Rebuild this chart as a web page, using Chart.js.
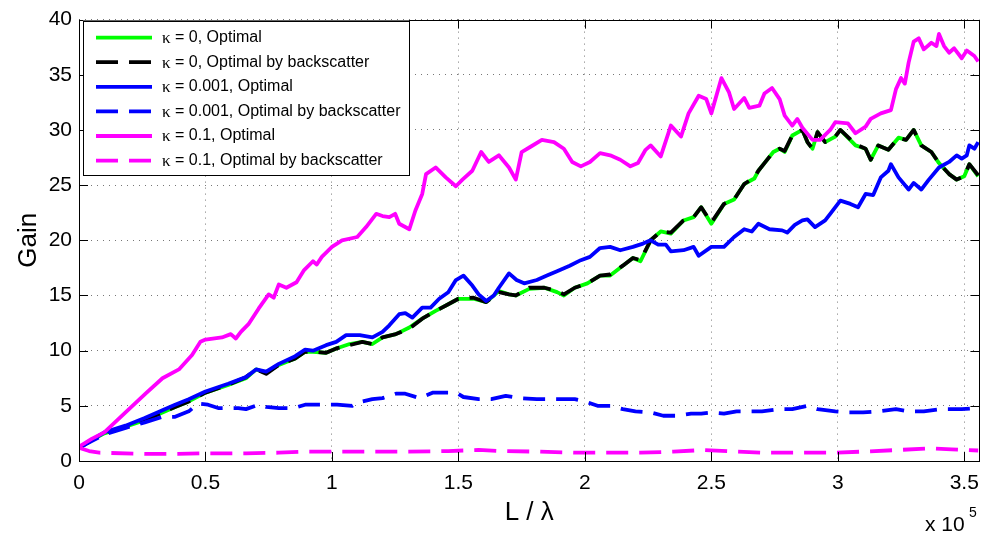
<!DOCTYPE html>
<html>
<head>
<meta charset="utf-8">
<script src="https://cdn.jsdelivr.net/npm/chart.js@4"></script>
<style>
  html, body { margin: 0; padding: 0; background: #fff; }
  #wrap { width: 989px; height: 542px; }
</style>
</head>
<body>
<div id="wrap"><canvas id="gainChart" width="989" height="542"></canvas></div>
<script>
// x values are in units of 1e5 (L / lambda)
const xTicks = [0, 0.5, 1, 1.5, 2, 2.5, 3, 3.5];
const yTicks = [0, 5, 10, 15, 20, 25, 30, 35, 40];

const labels = [
    'κ = 0, Optimal',
    'κ = 0, Optimal by backscatter',
    'κ = 0.001, Optimal',
    'κ = 0.001, Optimal by backscatter',
    'κ = 0.1, Optimal',
    'κ = 0.1, Optimal by backscatter'
];

// kappa = 0, optimal (green) and by backscatter (black dashed)
const k0X = [0, 0.05, 0.1, 0.184, 0.26, 0.33, 0.38, 0.434, 0.5, 0.59, 0.66, 0.70, 0.74, 0.79, 0.855, 0.894, 0.925, 0.977, 1.017, 1.07, 1.12, 1.16, 1.2, 1.253, 1.306, 1.357, 1.41, 1.46, 1.50, 1.56, 1.61, 1.66, 1.70, 1.727, 1.78, 1.84, 1.89, 1.917, 1.96, 2.01, 2.06, 2.1, 2.15, 2.19, 2.22, 2.26, 2.30, 2.34, 2.39, 2.43, 2.46, 2.50, 2.55, 2.59, 2.63, 2.67, 2.686, 2.71, 2.745, 2.77, 2.79, 2.82, 2.86, 2.88, 2.90, 2.92, 2.95, 2.99, 3.01, 3.07, 3.11, 3.13, 3.16, 3.2, 3.24, 3.27, 3.30, 3.33, 3.37, 3.40, 3.44, 3.47, 3.50, 3.52, 3.555];
const k0OptY = [1.2, 1.9, 2.5, 3.1, 3.7, 4.4, 4.9, 5.4, 6.2, 6.9, 7.5, 8.3, 8.0, 8.7, 9.3, 9.9, 9.9, 9.8, 10.2, 10.6, 10.8, 10.6, 11.2, 11.5, 12.1, 12.9, 13.6, 14.2, 14.7, 14.7, 14.4, 15.4, 15.1, 15.0, 15.6, 15.7, 15.3, 15.0, 15.7, 16.1, 16.8, 16.8, 17.7, 18.4, 18.1, 20.0, 20.8, 20.6, 21.8, 22.1, 23.0, 21.5, 23.3, 23.7, 25.1, 25.6, 26.3, 27.0, 28.0, 28.3, 28.0, 29.5, 30.0, 28.9, 28.3, 29.8, 28.9, 29.4, 30.0, 28.6, 28.3, 27.3, 28.6, 28.2, 29.3, 29.1, 30.0, 28.6, 28.0, 27.0, 26.0, 25.5, 25.8, 26.9, 25.8];
const k0BackY = [1.2, 1.9, 2.5, 3.1, 3.7, 4.4, 4.9, 5.4, 6.2, 6.9, 7.6, 8.3, 7.9, 8.7, 9.3, 9.9, 9.9, 9.8, 10.2, 10.5, 10.8, 10.6, 11.2, 11.5, 12.0, 12.9, 13.6, 14.2, 14.7, 14.8, 14.4, 15.3, 15.1, 15.0, 15.7, 15.7, 15.4, 15.1, 15.7, 16.1, 16.8, 16.9, 17.7, 18.4, 18.2, 20.0, 20.8, 20.7, 21.8, 22.1, 23.0, 21.6, 23.3, 23.7, 25.1, 25.7, 26.3, 27.0, 28.0, 28.3, 28.1, 29.5, 30.0, 28.9, 28.3, 29.8, 28.9, 29.4, 30.0, 28.7, 28.3, 27.3, 28.6, 28.2, 29.3, 29.1, 30.0, 28.6, 28.0, 27.0, 26.0, 25.5, 25.8, 26.9, 25.9];

// kappa = 0.001, optimal (blue)
const k1OptX = [0, 0.05, 0.1, 0.184, 0.26, 0.33, 0.38, 0.434, 0.5, 0.59, 0.66, 0.70, 0.74, 0.79, 0.855, 0.894, 0.925, 0.977, 1.017, 1.056, 1.11, 1.16, 1.2, 1.227, 1.266, 1.29, 1.318, 1.357, 1.39, 1.424, 1.46, 1.49, 1.52, 1.555, 1.58, 1.61, 1.64, 1.66, 1.70, 1.73, 1.76, 1.81, 1.85, 1.89, 1.94, 1.984, 2.02, 2.06, 2.1, 2.14, 2.19, 2.23, 2.26, 2.29, 2.32, 2.34, 2.39, 2.43, 2.45, 2.50, 2.55, 2.59, 2.63, 2.66, 2.686, 2.73, 2.78, 2.8, 2.83, 2.86, 2.88, 2.91, 2.95, 2.97, 3.01, 3.05, 3.08, 3.11, 3.14, 3.17, 3.20, 3.21, 3.24, 3.28, 3.30, 3.33, 3.36, 3.40, 3.44, 3.47, 3.49, 3.51, 3.52, 3.54, 3.555];
const k1OptY = [1.2, 1.9, 2.6, 3.2, 3.9, 4.6, 5.1, 5.6, 6.3, 7.0, 7.6, 8.3, 8.1, 8.8, 9.5, 10.1, 10.0, 10.5, 10.8, 11.4, 11.4, 11.2, 11.7, 12.3, 13.3, 13.4, 13.0, 13.9, 13.9, 14.7, 15.3, 16.4, 16.8, 15.9, 15.1, 14.5, 15.0, 15.7, 17.0, 16.4, 16.1, 16.4, 16.8, 17.2, 17.7, 18.2, 18.5, 19.3, 19.4, 19.1, 19.4, 19.7, 20.0, 19.6, 19.6, 19.0, 19.1, 19.4, 18.6, 19.4, 19.4, 20.3, 21.0, 20.8, 21.5, 21.0, 20.9, 20.7, 21.4, 21.8, 21.9, 21.2, 21.8, 22.4, 23.6, 23.3, 23.0, 24.2, 24.1, 25.7, 26.3, 26.9, 25.7, 24.6, 25.2, 24.6, 25.5, 26.6, 27.1, 27.7, 27.4, 27.7, 28.6, 28.3, 28.9];

// kappa = 0.001, by backscatter (blue dashed)
const k1BackX = [0, 0.05, 0.1, 0.184, 0.26, 0.33, 0.38, 0.434, 0.47, 0.51, 0.55, 0.63, 0.66, 0.71, 0.74, 0.79, 0.85, 0.894, 0.95, 1.02, 1.08, 1.10, 1.16, 1.2, 1.253, 1.29, 1.345, 1.40, 1.45, 1.49, 1.52, 1.58, 1.63, 1.687, 1.74, 1.81, 1.89, 1.96, 2.0, 2.05, 2.1, 2.15, 2.2, 2.26, 2.31, 2.36, 2.42, 2.46, 2.50, 2.55, 2.6, 2.7, 2.77, 2.82, 2.88, 2.92, 2.99, 3.04, 3.1, 3.16, 3.23, 3.28, 3.34, 3.41, 3.49, 3.555];
const k1BackY = [1.2, 1.8, 2.4, 3.0, 3.5, 4.0, 4.0, 4.5, 5.2, 5.1, 4.8, 4.8, 4.7, 5.1, 4.9, 4.8, 4.8, 5.1, 5.1, 5.1, 5.0, 5.3, 5.6, 5.7, 6.1, 6.1, 5.7, 6.2, 6.2, 6.2, 5.8, 5.6, 5.6, 5.9, 5.7, 5.6, 5.6, 5.6, 5.4, 5.0, 5.0, 4.7, 4.5, 4.4, 4.1, 4.1, 4.3, 4.3, 4.4, 4.3, 4.5, 4.5, 4.7, 4.7, 5.0, 4.7, 4.5, 4.4, 4.4, 4.5, 4.7, 4.5, 4.5, 4.7, 4.7, 4.8];

// kappa = 0.1, optimal (magenta)
const k2OptX = [0, 0.05, 0.1, 0.184, 0.263, 0.33, 0.395, 0.447, 0.48, 0.5, 0.565, 0.6, 0.62, 0.64, 0.67, 0.71, 0.75, 0.77, 0.79, 0.82, 0.86, 0.89, 0.925, 0.94, 0.96, 1.0, 1.04, 1.1, 1.135, 1.175, 1.2, 1.227, 1.25, 1.266, 1.306, 1.33, 1.357, 1.372, 1.41, 1.45, 1.49, 1.516, 1.555, 1.59, 1.62, 1.66, 1.70, 1.727, 1.75, 1.787, 1.83, 1.878, 1.917, 1.95, 1.984, 2.02, 2.06, 2.1, 2.14, 2.18, 2.21, 2.24, 2.26, 2.30, 2.34, 2.38, 2.41, 2.45, 2.48, 2.50, 2.54, 2.57, 2.59, 2.63, 2.65, 2.69, 2.71, 2.74, 2.77, 2.79, 2.82, 2.84, 2.86, 2.90, 2.93, 2.97, 2.99, 3.04, 3.07, 3.11, 3.13, 3.17, 3.21, 3.23, 3.25, 3.265, 3.28, 3.30, 3.32, 3.34, 3.37, 3.39, 3.40, 3.42, 3.44, 3.46, 3.49, 3.51, 3.54, 3.555];
const k2OptY = [1.3, 2.0, 2.6, 4.4, 6.1, 7.5, 8.3, 9.6, 10.8, 11.0, 11.2, 11.5, 11.1, 11.7, 12.4, 13.8, 15.1, 14.8, 16.0, 15.7, 16.2, 17.3, 18.1, 17.8, 18.5, 19.4, 20.0, 20.3, 21.2, 22.4, 22.2, 22.1, 22.4, 21.5, 21.0, 22.7, 24.2, 26.0, 26.6, 25.7, 24.9, 25.5, 26.3, 28.0, 27.1, 27.7, 26.6, 25.5, 28.0, 28.5, 29.1, 28.9, 28.3, 27.1, 26.7, 27.1, 27.9, 27.7, 27.3, 26.7, 27.0, 28.2, 28.6, 27.6, 30.4, 29.4, 31.5, 33.1, 32.8, 31.5, 34.7, 33.4, 31.9, 32.9, 32.0, 32.2, 33.3, 33.8, 32.8, 31.3, 30.4, 31.0, 30.2, 29.1, 29.1, 30.0, 30.7, 30.6, 29.7, 30.3, 31.0, 31.5, 31.8, 33.7, 34.7, 34.2, 36.1, 38.0, 38.3, 37.3, 37.9, 37.6, 38.7, 37.6, 37.0, 37.4, 36.5, 37.2, 36.7, 36.2];

// kappa = 0.1, by backscatter (magenta dashed)
const k2BackX = [0, 0.04, 0.08, 0.26, 0.39, 0.5, 0.66, 0.79, 0.89, 1.07, 1.27, 1.46, 1.58, 1.66, 1.82, 1.96, 2.08, 2.22, 2.35, 2.47, 2.6, 2.7, 2.84, 2.98, 3.1, 3.24, 3.37, 3.45, 3.555];
const k2BackY = [1.2, 0.9, 0.75, 0.65, 0.65, 0.7, 0.7, 0.75, 0.85, 0.85, 0.85, 0.9, 1.0, 0.9, 0.85, 0.75, 0.75, 0.75, 0.85, 1.0, 0.85, 0.75, 0.75, 0.75, 0.85, 1.0, 1.15, 1.05, 0.95];

const toPoints = (xs, ys) => xs.map((x, i) => ({ x: x, y: ys[i] }));
const DASH = [22, 11];

// MATLAB style box, inward ticks, legend and exponent label
const matlabFrame = {
    id: 'matlabFrame',
    afterDraw(chart) {
        const ctx = chart.ctx;
        const a = chart.chartArea;
        const xs = chart.scales.x, ys = chart.scales.y;
        ctx.save();
        ctx.strokeStyle = '#000';
        ctx.lineWidth = 1;
        ctx.strokeRect(Math.round(a.left) + 0.5, Math.round(a.top) + 0.5,
            Math.round(a.right - a.left), Math.round(a.bottom - a.top));
        const tl = 9;
        ctx.beginPath();
        xTicks.forEach(v => {
            const px = Math.round(xs.getPixelForValue(v)) + 0.5;
            ctx.moveTo(px, a.bottom); ctx.lineTo(px, a.bottom - tl);
            ctx.moveTo(px, a.top); ctx.lineTo(px, a.top + tl);
        });
        yTicks.forEach(v => {
            const py = Math.round(ys.getPixelForValue(v)) + 0.5;
            ctx.moveTo(a.left, py); ctx.lineTo(a.left + tl, py);
            ctx.moveTo(a.right, py); ctx.lineTo(a.right - tl, py);
        });
        ctx.stroke();

        // legend
        const lx = a.left + 4, ly = a.top + 1, lw = 326, lh = 154;
        ctx.fillStyle = '#fff';
        ctx.fillRect(lx, ly, lw, lh);
        ctx.strokeRect(Math.round(lx) + 0.5, Math.round(ly) + 0.5, lw, lh);
        chart.data.datasets.forEach((ds, i) => {
            const cy = ly + 17 + i * 24.6;
            ctx.beginPath();
            ctx.strokeStyle = ds.borderColor;
            ctx.lineWidth = ds.borderWidth;
            ctx.setLineDash(ds.borderDash || []);
            ctx.moveTo(lx + 13, cy);
            ctx.lineTo(lx + 69, cy);
            ctx.stroke();
            ctx.setLineDash([]);
            ctx.fillStyle = '#000';
            ctx.textBaseline = 'middle';
            ctx.textAlign = 'left';
            ctx.font = '17px "Liberation Serif"';
            ctx.fillText(ds.label.charAt(0), lx + 79, cy + 1);
            const kw = ctx.measureText(ds.label.charAt(0)).width;
            ctx.font = '16px "Liberation Sans"';
            ctx.fillText(ds.label.slice(1), lx + 79 + kw, cy);
        });

        // x 10^5
        ctx.fillStyle = '#000';
        ctx.textBaseline = 'alphabetic';
        ctx.textAlign = 'left';
        ctx.font = '21px "Liberation Sans"';
        ctx.fillText('x 10', 925, 531);
        ctx.font = '14px "Liberation Sans"';
        ctx.fillText('5', 969, 517);
        ctx.restore();
    }
};

new Chart(document.getElementById('gainChart').getContext('2d'), {
    type: 'line',
    data: {
        datasets: [
            { label: labels[0], data: toPoints(k0X, k0OptY), borderColor: '#00ff00', borderWidth: 3.8, order: 6 },
            { label: labels[1], data: toPoints(k0X, k0BackY), borderColor: '#000000', borderWidth: 3.8, borderDash: DASH, order: 5 },
            { label: labels[2], data: toPoints(k1OptX, k1OptY), borderColor: '#0000ff', borderWidth: 3.8, order: 4 },
            { label: labels[3], data: toPoints(k1BackX, k1BackY), borderColor: '#0000ff', borderWidth: 3.8, borderDash: DASH, order: 3 },
            { label: labels[4], data: toPoints(k2OptX, k2OptY), borderColor: '#ff00ff', borderWidth: 3.8, order: 2 },
            { label: labels[5], data: toPoints(k2BackX, k2BackY), borderColor: '#ff00ff', borderWidth: 3.8, borderDash: DASH, order: 1 }
        ]
    },
    options: {
        responsive: false,
        animation: false,
        events: [],
        layout: { padding: { top: 13, right: 8, left: 0, bottom: 0 } },
        elements: {
            point: { radius: 0 },
            line: { tension: 0, fill: false, borderJoinStyle: 'round', borderCapStyle: 'butt' }
        },
        plugins: {
            legend: { display: false },
            tooltip: { enabled: false }
        },
        scales: {
            x: {
                type: 'linear',
                min: 0,
                max: 3.56,
                afterBuildTicks: scale => { scale.ticks = xTicks.map(v => ({ value: v })); },
                afterFit: scale => { scale.height = 81; },
                ticks: {
                    color: '#000',
                    font: { family: 'Liberation Sans', size: 21 },
                    padding: 10,
                    maxRotation: 0,
                    callback: v => String(v)
                },
                grid: { color: '#777', lineWidth: 1, drawTicks: false },
                border: { display: false, dash: [1, 5] },
                title: {
                    display: true,
                    text: 'L / λ',
                    color: '#000',
                    font: { family: 'Liberation Sans', size: 26, lineHeight: 1 },
                    padding: { top: 0, bottom: 16 }
                }
            },
            y: {
                min: 0,
                max: 40,
                afterBuildTicks: scale => { scale.ticks = yTicks.map(v => ({ value: v })); },
                afterFit: scale => { scale.width = 79; },
                ticks: {
                    color: '#000',
                    font: { family: 'Liberation Sans', size: 21 },
                    padding: 7
                },
                grid: { color: '#777', lineWidth: 1, drawTicks: false },
                border: { display: false, dash: [1, 5] },
                title: {
                    display: true,
                    text: 'Gain',
                    color: '#000',
                    font: { family: 'Liberation Sans', size: 26, lineHeight: 1 },
                    padding: { top: 16, bottom: 0 }
                }
            }
        }
    },
    plugins: [matlabFrame]
});
</script>
</body>
</html>
